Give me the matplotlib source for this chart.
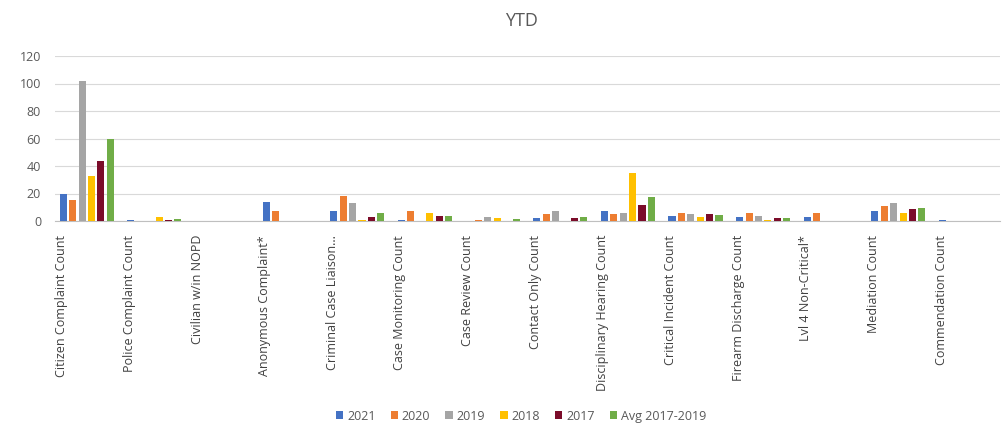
import numpy as np
import matplotlib
matplotlib.use("Agg")
import matplotlib.pyplot as plt

plt.rcParams['font.family'] = ['Open Sans', 'DejaVu Sans']

categories = ["Citizen Complaint Count", "Police Complaint Count", "Civilian w/in NOPD",
              "Anonymous Complaint*", "Criminal Case Liaison...", "Case Monitoring Count",
              "Case Review Count", "Contact Only Count", "Disciplinary Hearing Count",
              "Critical Incident Count", "Firearm Discharge Count", "Lvl 4 Non-Critical*",
              "Mediation Count", "Commendation Count"]

series_names = ["2021", "2020", "2019", "2018", "2017", "Avg 2017-2019"]
v2021 = [20, 1, 0, 14, 7, 1, 0, 2, 7, 4, 3, 3, 7, 1]
v2020 = [15, 0, 0, 7, 18, 7, 1, 5, 5, 6, 6, 6, 11, 0]
v2019 = [102, 0, 0, 0, 13, 0, 3, 7, 6, 5, 4, 0, 13, 0]
v2018 = [33, 3, 0, 0, 1, 6, 2, 0, 35, 3, 1, 0, 6, 0]
v2017 = [44, 1, 0, 0, 3, 4, 0, 2, 12, 5, 2, 0, 9, 0]
vavg = [59.7, 1.3, 0, 0, 5.7, 3.3, 1.7, 3, 17.7, 4.3, 2.3, 0, 9.3, 0]

colors = ["#4472C4", "#ED7D31", "#A5A5A5", "#FFC000", "#7B0C2A", "#70AD47"]

fig = plt.figure(figsize=(10.02, 4.28), dpi=100)
ax = fig.add_axes([0.0549, 1 - 221 / 428, 0.943, 165 / 428])

x = np.arange(len(categories))
pitch = 0.139
width = 0.105
all_vals = [v2021, v2020, v2019, v2018, v2017, vavg]
for k, (name, vals) in enumerate(zip(series_names, all_vals)):
    ax.bar(x + (k - 2.5) * pitch, vals, width=width, color=colors[k], label=name, zorder=3)

ax.set_ylim(0, 120)
ax.set_xlim(-0.47, 13.5)
ax.set_yticks(range(0, 121, 20))
ax.yaxis.grid(True, color="#D9D9D9", linewidth=0.8)
ax.set_axisbelow(True)
for s in ["top", "right", "left"]:
    ax.spines[s].set_visible(False)
ax.spines["bottom"].set_color("#BFBFBF")
ax.tick_params(axis="y", length=0, labelsize=9, colors="#595959", pad=10)
ax.set_xticks(x - 0.37)
ax.set_xticklabels(categories, rotation=90, fontsize=9, color="#404040")
ax.tick_params(axis="x", length=0, pad=10)

fig.text(0.52, 0.95, "YTD", ha="center", va="center", fontsize=13, color="#595959")
fig.legend(loc="center", bbox_to_anchor=(0.52, 0.028), ncol=6, frameon=False,
           fontsize=9, handlelength=0.6, handleheight=0.6, columnspacing=1.2,
           handletextpad=0.3, labelcolor="#595959")

fig.savefig("out.png", dpi=100)
